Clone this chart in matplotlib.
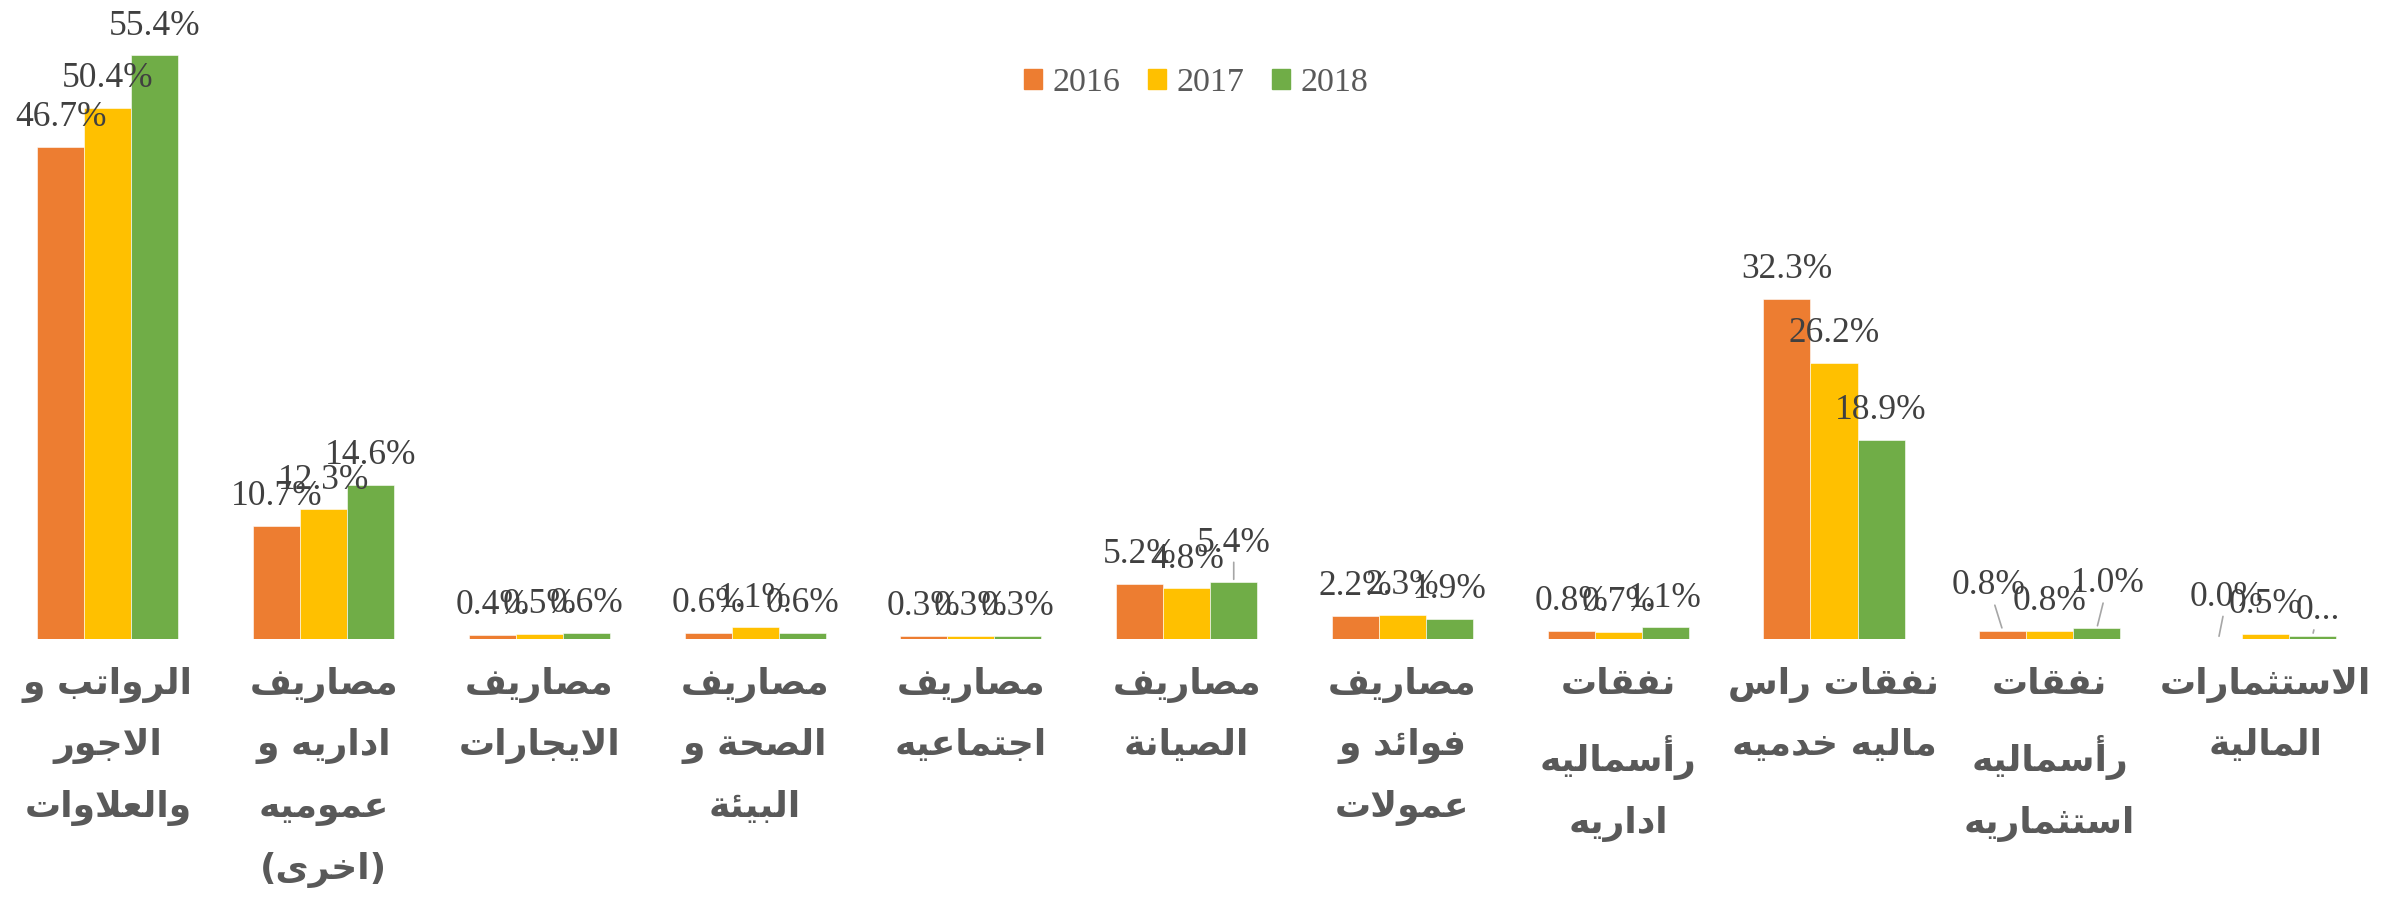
import numpy as np
import matplotlib
matplotlib.use('Agg')
import matplotlib.pyplot as plt
from matplotlib.patches import Patch


# data (percent)
categories = [
    "الرواتب و\nالاجور\nوالعلاوات",
    "مصاريف\nاداريه و\nعموميه\n(اخرى)",
    "مصاريف\nالايجارات",
    "مصاريف\nالصحة و\nالبيئة",
    "مصاريف\nاجتماعيه",
    "مصاريف\nالصيانة",
    "مصاريف\nفوائد و\nعمولات",
    "نفقات\nرأسماليه\nاداريه",
    "نفقات راس\nماليه خدميه",
    "نفقات\nرأسماليه\nاستثماريه",
    "الاستثمارات\nالمالية",
]
years = ['2016', '2017', '2018']
v2016 = [46.7, 10.7, 0.4, 0.6, 0.3, 5.2, 2.2, 0.8, 32.3, 0.8, 0.0]
v2017 = [50.4, 12.3, 0.5, 1.1, 0.3, 4.8, 2.3, 0.7, 26.2, 0.8, 0.5]
v2018 = [55.4, 14.6, 0.6, 0.6, 0.3, 5.4, 1.9, 1.1, 18.9, 1.0, 0.3]

colors = ['#ED7D31', '#FFC000', '#70AD47']


# --- minimal arabic shaping, matplotlib has no RTL / joining support ---
DUAL = {'ئ': 0xFE89, 'ب': 0xFE8F, 'ت': 0xFE95, 'ث': 0xFE99, 'ج': 0xFE9D, 'ح': 0xFEA1,
        'خ': 0xFEA5, 'س': 0xFEB1, 'ش': 0xFEB5, 'ص': 0xFEB9, 'ض': 0xFEBD, 'ط': 0xFEC1,
        'ظ': 0xFEC5, 'ع': 0xFEC9, 'غ': 0xFECD, 'ف': 0xFED1, 'ق': 0xFED5, 'ك': 0xFED9,
        'ل': 0xFEDD, 'م': 0xFEE1, 'ن': 0xFEE5, 'ه': 0xFEE9, 'ي': 0xFEF1}
RIGHT = {'آ': 0xFE81, 'أ': 0xFE83, 'ؤ': 0xFE85, 'إ': 0xFE87, 'ا': 0xFE8D, 'ة': 0xFE93,
         'د': 0xFEA9, 'ذ': 0xFEAB, 'ر': 0xFEAD, 'ز': 0xFEAF, 'و': 0xFEED, 'ى': 0xFEEF}
LAM_ALEF = {'آ': 0xFEF5, 'أ': 0xFEF7, 'إ': 0xFEF9, 'ا': 0xFEFB}


def shape_line(text):
    toks = []
    i = 0
    while i < len(text):
        c = text[i]
        if c == 'ل' and i + 1 < len(text) and text[i + 1] in LAM_ALEF:
            toks.append(('la', LAM_ALEF[text[i + 1]]))
            i += 2
        else:
            toks.append((c, None))
            i += 1

    out = []
    for k, (c, base) in enumerate(toks):
        if c == 'la':
            b = base
        elif c in DUAL:
            b = DUAL[c]
        elif c in RIGHT:
            b = RIGHT[c]
        else:
            out.append(c)
            continue
        prev = toks[k - 1][0] if k > 0 else None
        nxt = toks[k + 1][0] if k + 1 < len(toks) else None
        p = prev in DUAL
        n = c in DUAL and (nxt in DUAL or nxt in RIGHT or nxt == 'la')
        form = 3 if (p and n) else 2 if n else 1 if p else 0
        out.append(chr(b + form))
    s = ''.join(out)[::-1]
    return s.translate(str.maketrans('()', ')('))


def shape(text):
    return '\n'.join(shape_line(line) for line in text.split('\n'))


fig = plt.figure(figsize=(23.87, 9.08), dpi=100)
ax = fig.add_axes([0.0, 0.2963, 0.9943, 0.696])

x = np.arange(len(categories))
width = 0.218
series = [v2016, v2017, v2018]
label_font = dict(family='Liberation Serif', size=25.5, color='#404040')

# label overrides: (series, category) -> (dx, dy) in points, leader line drawn
moved = {(2, 5): (0, 22), (0, 9): (-10, 26), (2, 9): (8, 26),
         (0, 10): (6, 24), (2, 10): (4, 12)}
short_text = {(2, 10): '0...'}

for s, vals in enumerate(series):
    pos = x + (s - 1) * width
    ax.bar(pos, vals, width, color=colors[s], edgecolor='white', linewidth=0.4, label=years[s])
    for c, (px, v) in enumerate(zip(pos, vals)):
        txt = short_text.get((s, c), f'{v:.1f}%')
        if (s, c) in moved:
            dx, dy = moved[(s, c)]
            ax.annotate(txt, (px, v), xytext=(dx, dy), textcoords='offset points',
                        ha='center', va='baseline', **label_font,
                        arrowprops=dict(arrowstyle='-', color='#A6A6A6', lw=1.2,
                                        shrinkA=0, shrinkB=2))
        else:
            ax.annotate(txt, (px, v), xytext=(0, 15), textcoords='offset points',
                        ha='center', va='baseline', **label_font)

ax.set_xlim(-0.5, len(categories) - 0.5)
ax.set_ylim(0, 60)
ax.set_yticks([])
ax.set_xticks(x)
ax.set_xticklabels([shape(c) for c in categories], family='DejaVu Sans', fontweight='bold',
                   fontsize=26, color='#595959', linespacing=1.95, va='top')
ax.tick_params(axis='x', length=0, pad=20)
for sp in ax.spines.values():
    sp.set_visible(False)

handles = [Patch(color=colors[i], label=years[i]) for i in range(3)]
fig.legend(handles=handles, loc='center', bbox_to_anchor=(0.501, 0.9086), ncol=3,
           frameon=False, prop=dict(family='Liberation Serif', size=24.5),
           labelcolor='#595959', handlelength=0.55, handleheight=0.55,
           handletextpad=0.3, columnspacing=0.8)

fig.savefig('out.png', dpi=100)
